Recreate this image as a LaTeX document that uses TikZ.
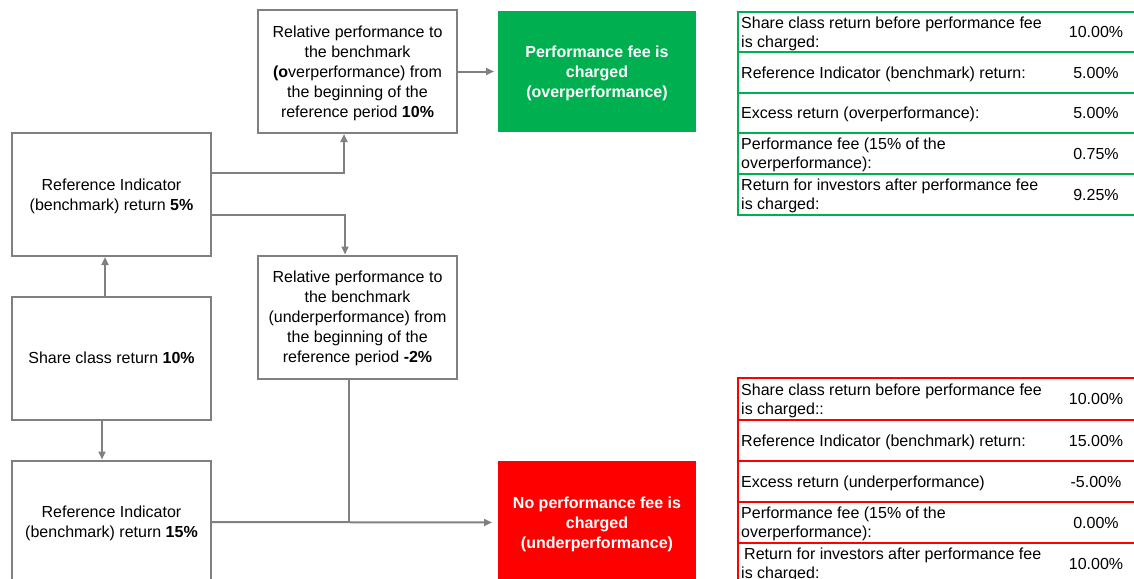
\documentclass[tikz,border=0pt]{standalone}
\usepackage{fontspec}
\setmainfont{Liberation Sans}
\usetikzlibrary{arrows.meta,positioning,calc}
\definecolor{linec}{HTML}{808080}
\definecolor{feeg}{HTML}{00B050}
\definecolor{feer}{HTML}{FF0000}
\tikzset{
  conn/.style={line width=2pt,linec},
  ar/.style={conn,-{Triangle[length=8pt,width=7pt]}},
  box/.style={draw=linec,line width=2pt,fill=white,align=center,minimum width=199pt,minimum height=123pt,inner sep=4pt,text depth=-1pt,font=\fontsize{16}{20}\selectfont},
  fee/.style={box,draw=none,minimum width=198pt,minimum height=121pt,text=white,font=\fontsize{16}{20}\selectfont\bfseries},
  lab/.style={anchor=west,align=left,inner sep=0pt,text depth=-1pt,font=\fontsize{16}{19}\selectfont},
  val/.style={inner sep=0pt,text depth=-2pt,font=\fontsize{16}{19}\selectfont}
}

\begin{document}
\begin{tikzpicture}[x=1pt,y=-1pt]
\useasboundingbox (0,0) rectangle (1134,578);
\clip (0,0) rectangle (1134,578);

% flow boxes
\node[box] (over) at (357.5,71.5) {Relative performance to\\the benchmark\\\textbf{(o}verperformance) from\\the beginning of the\\reference period \textbf{10\%}};
\node[fee,fill=feeg] (green) at (597,71.5) {Performance fee is\\charged\\(overperformance)};
\node[box] (ref5) at (111.5,194.5) {Reference Indicator\\(benchmark) return \textbf{5\%}};
\node[box] (under) at (357.5,317) {Relative performance to\\the benchmark\\(underperformance) from\\the beginning of the\\reference period \textbf{-2\%}};
\node[box] (share) at (111.5,358) {Share class return \textbf{10\%}};
\node[box] (ref15) at (111.5,522) {Reference Indicator\\(benchmark) return \textbf{15\%}};
\node[fee,fill=feer,minimum height=123pt] (red) at (597,522.5) {No performance fee is\\charged\\(underperformance)};

% connectors
\draw[ar] ([xshift=-6.5pt]share.north) -- ([xshift=-6.5pt]ref5.south);
\draw[ar] ([xshift=-9.5pt]share.south) -- ([xshift=-9.5pt]ref15.north);
\draw[ar] ([yshift=21.5pt]ref5.east) -| ([xshift=-13.5pt]over.south);
\draw[ar] ([yshift=-20.5pt]ref5.east) -| ([xshift=-12.5pt]under.north);
\draw[ar,shorten >=3pt] (over.east) -- (green.west);
\draw[conn] ([xshift=-8.5pt]under.south) -- ([xshift=-8.5pt]under.south |- ref15.east);
\draw[ar,shorten >=5pt] (ref15.east) -- (red.west);

% overperformance table
\foreach \ya/\yb/\lab/\val [count=\i] in {
  12/52/{Share class return before performance fee\\is charged:}/10.00\%,
  52/93/{Reference Indicator (benchmark) return:}/5.00\%,
  93/133/{Excess return (overperformance):}/5.00\%,
  133/174/{Performance fee (15\% of the\\overperformance):}/0.75\%,
  174/215/{Return for investors after performance fee\\is charged:}/9.25\%}{
  \draw[draw=feeg,line width=2pt] (738,\ya) rectangle (1140,\yb);
  \node[lab] (gl\i) at (741,{(\ya+\yb)/2}) {\lab};
  \node[val] (gv\i) at (1096,{(\ya+\yb)/2}) {\val};
}

% underperformance table
\foreach \ya/\yb/\lab/\val [count=\i] in {
  378/420/{Share class return before performance fee\\is charged::}/10.00\%,
  420/461/{Reference Indicator (benchmark) return:}/15.00\%,
  461/502/{Excess return (underperformance)}/-5.00\%,
  502/543/{Performance fee (15\% of the\\overperformance):}/0.00\%,
  543/584/{\hspace{3pt}Return for investors after performance fee\\is charged:}/10.00\%}{
  \draw[draw=feer,line width=2pt] (738,\ya) rectangle (1140,\yb);
  \node[lab] (rl\i) at (741,{(\ya+\yb)/2}) {\lab};
  \node[val] (rv\i) at (1096,{(\ya+\yb)/2}) {\val};
}
\end{tikzpicture}
\end{document}
